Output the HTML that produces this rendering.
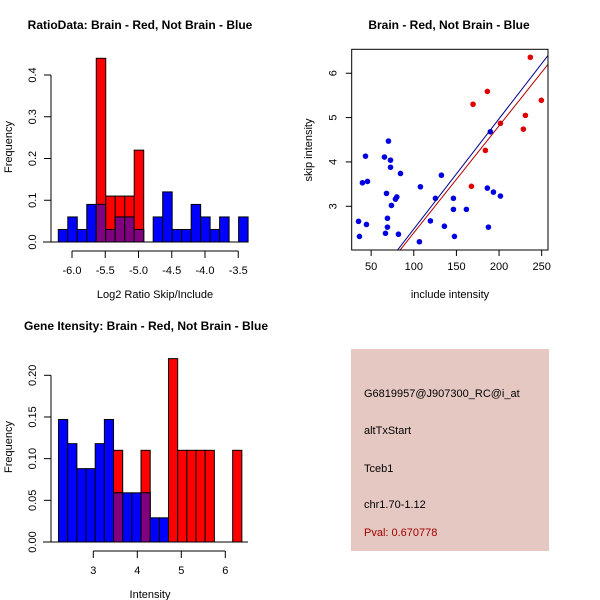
<!DOCTYPE html>
<html><head><meta charset="utf-8"><style>
html,body{margin:0;padding:0;background:#fff}
svg{display:block;font-family:"Liberation Sans",sans-serif}
</style></head><body>
<svg id="c" width="600" height="600" xmlns="http://www.w3.org/2000/svg">
<rect width="600" height="600" fill="#fff"/>
<text x="140" y="29" font-size="12" font-weight="bold" text-anchor="middle">RatioData: Brain - Red, Not Brain - Blue</text>
<text x="449" y="29" font-size="12" font-weight="bold" text-anchor="middle">Brain - Red, Not Brain - Blue</text>
<text x="146" y="330" font-size="12" font-weight="bold" text-anchor="middle">Gene Itensity: Brain - Red, Not Brain - Blue</text>
<text x="155" y="298" font-size="11" text-anchor="middle">Log2 Ratio Skip/Include</text>
<text x="450" y="298" font-size="11" text-anchor="middle">include intensity</text>
<text x="150" y="598" font-size="11" text-anchor="middle">Intensity</text>
<text transform="translate(12,147) rotate(-90)" font-size="11" text-anchor="middle">Frequency</text>
<text transform="translate(12,447) rotate(-90)" font-size="11" text-anchor="middle">Frequency</text>
<text transform="translate(312,150) rotate(-90)" font-size="11" text-anchor="middle">skip intensity</text>
<g>
<rect x="351" y="349" width="198" height="202" fill="#e6c8c2"/>
<text x="364" y="397" font-size="11">G6819957@J907300_RC@i_at</text>
<text x="364" y="434" font-size="11">altTxStart</text>
<text x="364" y="472" font-size="11">Tceb1</text>
<text x="364" y="508" font-size="11">chr1.70-1.12</text>
<text x="364" y="536" font-size="11" fill="#a00000">Pval: 0.670778</text>
</g>
</svg>
<script>
// Histogram 1 data (20 bins)
const ratioBinStart = -6.206, ratioBinWidth = 0.1427;
const ratioBlue = [0.03,0.06,0.03,0.09,0.09,0.03,0.06,0.06,0.03,0,0.06,0.12,0.03,0.03,0.09,0.06,0.03,0.06,0,0.06];
const ratioRed  = [0,0,0,0,0.44,0.11,0.11,0.11,0.22,0,0,0,0,0,0,0,0,0,0,0];
const ratioXTicks = [-6.0,-5.5,-5.0,-4.5,-4.0,-3.5];
const ratioXLabels = ["-6.0","-5.5","-5.0","-4.5","-4.0","-3.5"];
const ratioYTicks = [0,0.1,0.2,0.3,0.4];
const ratioYLabels = ["0.0","0.1","0.2","0.3","0.4"];
// Histogram 2 data
const intBinStart = 2.21, intBinWidth = 0.2083;
const intBlue = [0.147,0.118,0.088,0.088,0.118,0.147,0.059,0.059,0.059,0.059,0.029,0.029,0,0,0,0,0,0,0,0];
const intRed  = [0,0,0,0,0,0,0.11,0,0,0.11,0,0,0.22,0.11,0.11,0.11,0.11,0,0,0.11];
const intXTicks = [3,4,5,6];
const intXLabels = ["3","4","5","6"];
const intYTicks = [0,0.05,0.10,0.15,0.20];
const intYLabels = ["0.00","0.05","0.10","0.15","0.20"];
// Scatter data
const blueX = [35.2,36.3,39.8,45.7,43.4,44.5,70.3,65.6,72.7,72.7,84.4,68.0,73.8,80.1,78.5,69.1,69.1,66.8,82.0,107.8,106.6,119.5,125.4,132.4,135.9,146.5,146.5,147.7,161.7,186.3,187.5,189.8,193.4,201.6];
const blueY = [2.66,2.32,3.53,3.56,4.13,2.59,4.47,4.11,4.04,3.88,3.74,3.29,3.02,3.21,3.16,2.73,2.53,2.39,2.37,3.44,2.20,2.67,3.18,3.70,2.55,3.18,2.93,2.32,2.93,3.41,2.53,4.68,3.32,3.23];
const redX = [169.5,186.3,167.6,184.0,201.6,236.7,230.9,228.5,249.6];
const redY = [5.30,5.59,3.45,4.26,4.87,6.36,5.05,4.74,5.39];
const blueFit = [0.0, 0.02487];
const redFit = [-0.013, 0.02414];
const scXTicks = [50,100,150,200,250];
const scYTicks = [3,4,5,6];

const NS = "http://www.w3.org/2000/svg";
const svg = document.getElementById('c');
function mk(tag, attrs, parent){
  const e = document.createElementNS(NS, tag);
  for (const k in attrs) e.setAttribute(k, attrs[k]);
  (parent||svg).appendChild(e); return e;
}
function line(x1,y1,x2,y2,stroke,g){ return mk('line',{x1,y1,x2,y2,stroke:stroke||'#000','stroke-width':1},g); }

function hist(name, start, w, blue, red, xs, xL, ys, yL, x0, px0, pxPerUnit, y0, pyPerUnit){
  const X = v => px0 + (v - x0) * pxPerUnit;
  const Y = v => y0 - v * pyPerUnit;
  const g = mk('g',{});
  
  
  for (let i=0;i<blue.length;i++){
    const a = X(start + i*w), b = X(start + (i+1)*w);
    const vals = [[red[i],'#ff0000','red'],[blue[i],'#0000ff','blue'],[Math.min(red[i],blue[i]),'#800080','overlap']];
    for (const [v,col,nm] of vals){
      if (v<=0) continue;
      const r = mk('rect',{x:a,y:Y(v),width:b-a,height:Y(0)-Y(v),fill:col,stroke:'#000','stroke-width':1},g);
      
      
    }
  }
  line(43, Y(0), 248, Y(0), '#000', g);
  const ya = mk('g',{});
  
  
  const ax = 51;
  line(ax, Y(ys[0]), ax, Y(ys[ys.length-1]), '#000', ya);
  ys.forEach((v,i)=>{
    line(ax-7, Y(v), ax, Y(v), '#000', ya);
    const t = mk('text',{transform:`translate(${ax-15},${Y(v)}) rotate(-90)`,'font-size':11,'text-anchor':'middle'},ya);
    t.textContent = yL[i];
  });
  const xa = mk('g',{});
  
  
  const ay = Y(0) + 9;
  line(X(xs[0]), ay, X(xs[xs.length-1]), ay, '#000', xa);
  xs.forEach((v,i)=>{
    line(X(v), ay, X(v), ay+7, '#000', xa);
    const t = mk('text',{x:X(v),y:ay+23,'font-size':11,'text-anchor':'middle'},xa);
    t.textContent = xL[i];
  });
}
hist('ratio', ratioBinStart, ratioBinWidth, ratioBlue, ratioRed, ratioXTicks, ratioXLabels, ratioYTicks, ratioYLabels, -6, 72, 66.5, 242, 417.5);
hist('intensity', intBinStart, intBinWidth, intBlue, intRed, intXTicks, intXLabels, intYTicks, intYLabels, 3, 93.3, 44, 542, 833.5);

// Scatter
(function(){
  const xmin=27.2, xmax=257.4, ymin=2.014, ymax=6.54;
  const L=351.7, R=548, T=49.3, B=250;
  const X = v => L + (v-xmin)/(xmax-xmin)*(R-L);
  const Y = v => B - (v-ymin)/(ymax-ymin)*(B-T);
  const g = mk('g',{});
  
  
  mk('defs',{}).innerHTML = '<clipPath id="sc"><rect x="'+L+'" y="'+T+'" width="'+(R-L)+'" height="'+(B-T)+'"/></clipPath>';
  blueX.forEach((v,i)=>{
    const c = mk('circle',{cx:X(v),cy:Y(blueY[i]),r:2.8,fill:'#0000e0'},g);
    
    
  });
  redX.forEach((v,i)=>{
    const c = mk('circle',{cx:X(v),cy:Y(redY[i]),r:2.8,fill:'#e00000'},g);
    
    
  });
  const fits = [[blueFit,'#00008b','blue-fit-line'],[redFit,'#b00000','red-fit-line']];
  for (const [f,col,nm] of fits){
    const l = mk('line',{x1:X(xmin),y1:Y(f[0]+f[1]*xmin),x2:X(xmax),y2:Y(f[0]+f[1]*xmax),stroke:col,'stroke-width':1,'clip-path':'url(#sc)'},g);
    
    
  }
  const box = mk('rect',{x:L,y:T,width:R-L,height:B-T,fill:'none',stroke:'#000','stroke-width':1},g);
  
  
  const xa = mk('g',{});
  
  
  scXTicks.forEach(v=>{
    line(X(v), B, X(v), B+6, '#000', xa);
    const t = mk('text',{x:X(v),y:B+20,'font-size':11,'text-anchor':'middle'},xa);
    t.textContent = String(v);
  });
  const ya = mk('g',{});
  
  
  scYTicks.forEach(v=>{
    line(L-6, Y(v), L, Y(v), '#000', ya);
    const t = mk('text',{transform:`translate(${L-15},${Y(v)}) rotate(-90)`,'font-size':11,'text-anchor':'middle'},ya);
    t.textContent = String(v);
  });
})();
</script>
</body></html>
